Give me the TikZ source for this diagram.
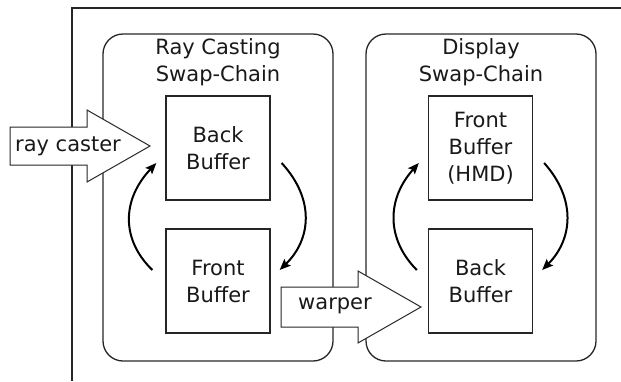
\documentclass[tikz,border=0pt]{standalone}
\usepackage{fontspec}
\setmainfont{DejaVu Sans}
\usetikzlibrary{arrows.meta}
\begin{document}
\begin{tikzpicture}[x=1pt,y=-1pt,
  every node/.style={font=\fontsize{21}{27}\selectfont, text=black!90},
  frameline/.style={draw=black!85, line width=1.3pt},
  chain/.style={frameline, rounded corners=20pt, minimum width=230pt, minimum height=327pt, inner sep=0pt},
  buffer/.style={frameline, minimum width=104pt, minimum height=104pt, inner sep=0pt, align=center},
  title/.style={align=center, inner sep=0pt},
  swap/.style={line width=2pt, -{Stealth[length=11pt,width=9pt,inset=2pt]}},
  bigarrow/.style={frameline, fill=white, line width=1pt},
]
\useasboundingbox (0,0) rectangle (621,381);

% outer frame
\draw[frameline] (72,381) -- (72,8) -- (621,8);

% swap-chain containers
\node[chain] (rc) at (218,197.5) {};
\node[chain] (dc) at (481,197.5) {};
\node[title] (rct) at (218,62) {Ray Casting\\Swap-Chain};
\node[title] (dct) at (481,62) {Display\\Swap-Chain};

% buffers
\node[buffer] (lb) at (218,148) {Back\\Buffer};
\node[buffer] (lf) at (218,281) {Front\\Buffer};
\node[buffer] (rf) at (480.5,148) {Front\\Buffer\\(HMD)};
\node[buffer] (rb) at (480.5,281) {Back\\Buffer};

% swap arrows of the ray casting chain
\draw[swap] ([xshift=11pt,yshift=-15pt]lb.east) .. controls +(34,37) and +(31,-30) .. ([xshift=9pt,yshift=11pt]lf.east);
\draw[swap] ([xshift=-13pt,yshift=11pt]lf.west) .. controls +(-31,-30) and +(-35,37) .. ([xshift=-9pt,yshift=-15pt]lb.west);

% swap arrows of the display chain
\draw[swap] ([xshift=-11pt,yshift=11pt]rb.west) .. controls +(-30,-30) and +(-33,37) .. ([xshift=-9pt,yshift=-15pt]rf.west);
\draw[swap] ([xshift=11pt,yshift=-15pt]rf.east) .. controls +(33,37) and +(30,-30) .. ([xshift=9pt,yshift=11pt]rb.east);

% ray caster arrow
\draw[bigarrow] (10,127) -- (87,127) -- (87,110) -- (150,146) -- (87,182) -- (87,165) -- (10,165) -- cycle;
\node[inner sep=0pt] (raycaster) at (68,146) {ray caster};

% warper arrow
\draw[bigarrow] (281,287) -- (358,287) -- (358,271) -- (421,307) -- (358,343) -- (358,327) -- (281,327) -- cycle;
\node[inner sep=0pt] (warper) at (335,306) {warper};
\end{tikzpicture}
\end{document}
